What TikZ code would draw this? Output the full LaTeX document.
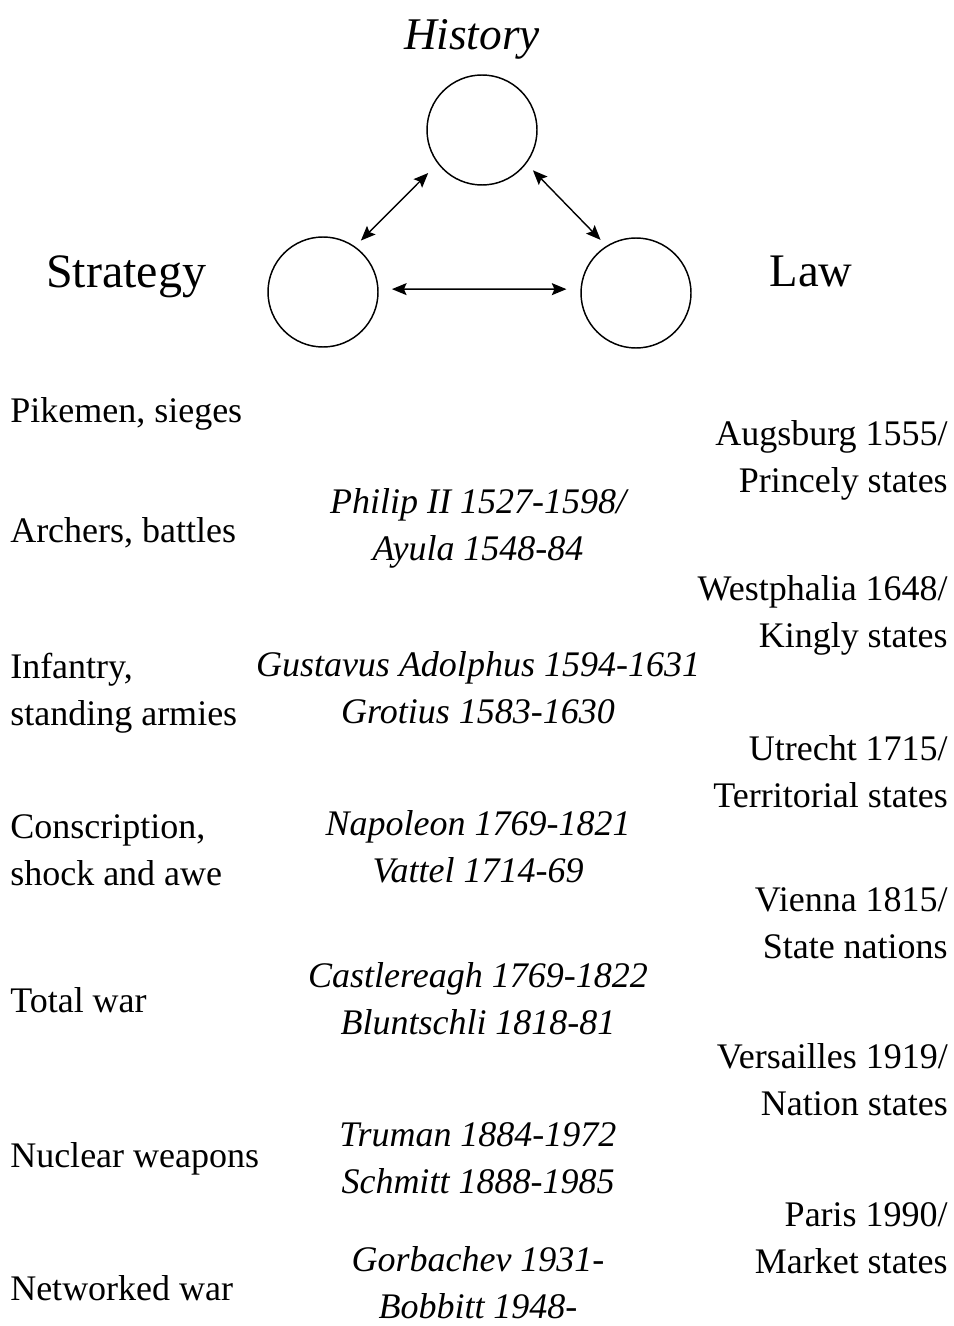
\documentclass[tikz,border=0pt]{standalone}
\usepackage{fontspec}
\setmainfont{Liberation Serif}
\usetikzlibrary{arrows.meta}
\begin{document}
\begin{tikzpicture}[x=0.75pt,y=-0.75pt,
  circ/.style={circle, draw, line width=1.1pt, minimum size=82.5pt, inner sep=0pt, outer sep=0pt},
  link/.style={{Stealth[length=11pt,width=9pt,inset=2pt]}-{Stealth[length=11pt,width=9pt,inset=2pt]}, line width=1.05pt},
  lbl/.style={font=\fontsize{27}{35.25}\selectfont, inner sep=0pt},
  leftlbl/.style={lbl, anchor=base west, align=left},
  midlbl/.style={lbl, anchor=base, align=center, font=\itshape\fontsize{27}{35.25}\selectfont},
  rightlbl/.style={lbl, anchor=base east, align=right},
  head/.style={inner sep=0pt, anchor=base}
]
\useasboundingbox (0,0) rectangle (953,1326);

% triangle of circles
\node[circ] (hist) at (482,130) {};
\node[circ] (strat) at (323,292) {};
\node[circ] (law) at (636,293) {};

\node[head, font=\itshape\fontsize{34}{40}\selectfont] (histlbl) at (472,50) {History};
\node[head, font=\fontsize{36}{42}\selectfont] (stratlbl) at (126,288) {Strategy};
\node[head, font=\fontsize{35}{42}\selectfont] (lawlbl) at (811,287) {Law};

\draw[link, shorten <=10.5pt, shorten >=6.75pt] (hist.217) -- (strat.55);
\draw[link, shorten <=7.5pt, shorten >=6.75pt] (hist.323) -- (law.122);
\draw[link, shorten <=10.5pt, shorten >=11pt] (strat.3) -- (law.176);

% left column (base anchor = baseline of last line)
\node[leftlbl] (s1) at (10,422) {Pikemen, sieges};
\node[leftlbl] (s2) at (10,542) {Archers, battles};
\node[leftlbl] (s3) at (10,725) {Infantry,\\standing armies};
\node[leftlbl] (s4) at (10,885) {Conscription,\\shock and awe};
\node[leftlbl] (s5) at (10,1012) {Total war};
\node[leftlbl] (s6) at (10,1167) {Nuclear weapons};
\node[leftlbl] (s7) at (10,1300) {Networked war};

% middle column
\node[midlbl] (h1) at (478,560) {Philip II 1527-1598/\\Ayula 1548-84};
\node[midlbl] (h2) at (478,723) {Gustavus Adolphus 1594-1631\\Grotius 1583-1630};
\node[midlbl] (h3) at (478,882) {Napoleon 1769-1821\\Vattel 1714-69};
\node[midlbl] (h4) at (478,1034) {Castlereagh 1769-1822\\Bluntschli 1818-81};
\node[midlbl] (h5) at (478,1193) {Truman 1884-1972\\Schmitt 1888-1985};
\node[midlbl] (h6) at (478,1318) {Gorbachev 1931-\\Bobbitt 1948-};

% right column
\node[rightlbl] (l1) at (948,492) {Augsburg 1555/\\Princely states};
\node[rightlbl] (l2) at (948,647) {Westphalia 1648/\\Kingly states};
\node[rightlbl] (l3) at (948,807) {Utrecht 1715/\\Territorial states};
\node[rightlbl] (l4) at (948,958) {Vienna 1815/\\State nations};
\node[rightlbl] (l5) at (948,1115) {Versailles 1919/\\Nation states};
\node[rightlbl] (l6) at (948,1273) {Paris 1990/\\Market states};
\end{tikzpicture}
\end{document}
